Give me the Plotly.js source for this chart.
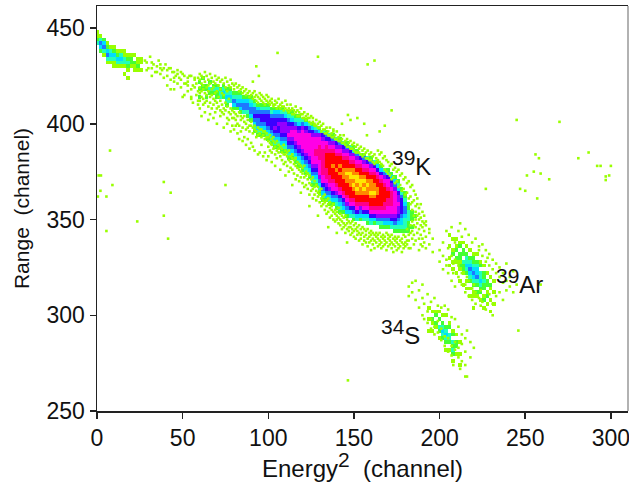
<!DOCTYPE html>
<html><head><meta charset="utf-8">
<script src="https://cdn.plot.ly/plotly-3.0.1.min.js"></script>
<style>html,body{margin:0;padding:0;background:#fff}</style></head>
<body><div id="chart" style="width:629px;height:482px"></div>
<script>
// counts per histogram column: [x channel, top y channel, level per 2-channel step going down]
const mainBand = [
[0,448,"1123"],[2,446,"13542"],[4,444,"24531"],[6,442,"124531"],[8,440,"13431"],[10,440,"124311"],
[12,438,"12431"],[14,438,"13431"],[16,438,"1133101"],[18,436,"1232101"],[20,436,"12210"],[22,436,"102110"],
[24,434,"11210"],[26,434,"1101"],
[60,424,"02020200"],[62,424,"20220"],[64,422,"02202"],[66,422,"20320"],[68,422,"02320"],[70,420,"23220"],
[72,420,"02330"],[74,420,"2342"],[76,418,"23432"],[78,418,"23430"],[80,418,"023542"],[82,416,"234520"],
[84,416,"234542"],[86,416,"024553"],[88,414,"2455320"],[90,414,"2345542"],
[92,414,"0235565432000"],[94,414,"0024565543200"],[96,414,"0023566543200"],[98,412,"02356654320000"],
[100,412,"023566654320000"],[102,412,"0023566654320000"],[104,412,"00245667654320000"],[106,410,"024567665432000"],
[108,410,"0235677765432000"],[110,410,"0034677765432000"],[112,408,"023567787654320000"],[114,408,"0234678876543200"],
[116,408,"00235788876543200"],[118,406,"0234678887654320000"],[120,406,"00357888887654320"],[122,404,"02467888887654320"],
[124,404,"003568888887654320"],[126,402,"02467888888876543200"],[128,402,"00357888998876543200"],[130,400,"024788999988887543200"],
[132,400,"0036788999999988654320"],[134,398,"0256899aaaa9998765420"],[136,398,"0036789aaaaaa998754320"],[138,396,"025789aaabaaa98865420"],
[140,396,"0036789aaabaaa98754320"],[142,394,"025789aababaaa98654320"],[144,394,"0036789aabbbaaa9865420"],[146,392,"025789aabcbbaaa9875420"],
[148,392,"0036789abccbbaaa986430"],[150,390,"024789abbcbcbaa9865320"],[152,388,"025789abccbcbaa986430"],[154,388,"003689aabccbbaa975420"],
[156,386,"025789abcbcbaa986430"],[158,386,"003689aabcbbaa9864320"],[160,384,"025789abbbcbaa986430"],[162,382,"03689aabbcbaa986420"],
[164,384,"0024689aabbaaa987530"],[166,382,"0024689aaaaaa9875320"],[168,380,"0035789aaaa99875420"],[170,378,"0246889aa998875420"],
[172,376,"02467899998876430"],[174,374,"02457888888765320"],[176,372,"0234677877654320"],[178,370,"0023566665443200"],
[180,368,"002234554333200"],[182,366,"0000223332220000"],[184,364,"0000022202000000"],[186,362,"000002000000000"]
];
const argonCluster = [
[206,342,"10010010100"],[208,342,"010012010100"],[210,340,"1012021001"],
[212,340,"012022121001"],[214,338,"102203221001"],[216,336,"10233432010100"],[218,334,"10234543201010"],
[220,332,"122345432011001"],[222,332,"10234453202100"],[224,328,"12033432201"],[226,326,"102232201201"],
[228,322,"10220120100"],[230,320,"1021001001"],[232,318,"1001001"]
];
const sulfurCluster = [
[194,304,"1001001"],[196,302,"1021010"],[198,304,"01202100"],
[200,302,"10203201"],[202,300,"10234320"],[204,300,"1002343201"],[206,296,"120332010"],
[208,292,"120323201"],[210,290,"1022010"],[212,286,"1001001"]
];
// single lime counts read as [x channel, [y channels]]
const strayColumns = [
[245,[402]],[270,[401]],[256,[384]],[258,[382]],[287,[385]],[281,[382]],[292,[378]],[294,[378]],[300,[378]],[299,[373]],[297,[372.5,370.6]],
[255,[375]],[259,[374,316]],[251,[373]],[264,[371]],[227,[366]],[247,[366]],[250,[365]],[257,[361]],[246,[292]],
[7.6,[386]],[2.3,[373]],[1,[373]],[9,[368]],[2,[365]],[5.5,[362,344]],[0.5,[362]],[39,[369.6,352]],[43,[364]],[23.5,[349]],[41.5,[340]],
[75,[368]],[146.5,[266]],[215,[268]],[208,[274]],[105.4,[437]],[93,[430]],[94.5,[425]],[91,[422]],[129,[435]],[162,[433]],[158,[431]],[172,[407]],
[146.5,[404.6]],[143,[400]],[148,[402]],[152,[403]],[156,[400]],[157.6,[394]],[165,[396]],[168,[399]],[138,[397]],
[28,[433]],[29,[432,428]],[30,[429]],[31,[435]],[32,[432,429,425]],[33,[431]],[34,[427]],[35,[430,427]],[36,[433]],[37,[431,426,429]],[38,[428]],
[39,[429,424]],[40,[431]],[41,[428,425,420]],[42,[429]],[43,[429,423,418]],[44,[427]],[45,[427,424,418,422]],[46,[425]],[47,[426,421,428]],[48,[424]],
[49,[427,423,419]],[50,[426,414]],[51,[425,421,415]],[52,[421]],[53,[424,420,417,422]],[54,[425]],[55,[425,418,414,413]],[56,[420,411]],[57,[423,419,424]],[58,[415,421]],[59,[424,417,410,412]],
[60,[426,423,419,416,412,408]],[61,[425,421,417,414,404]],[62,[424,420,418,413,410]],[63,[427,422,416,411,406]],[64,[425,419,415,412]],
[65,[423,420,417,409,402]],[66,[426,421,414,411,405]],[67,[424,418,415,408]],[68,[422,419,413,410,403]],[69,[425,421,416,412,406]],
[70,[423,417,411,408,400]],[71,[424,420,414,409]],[72,[422,418,412,407,404]],[73,[423,416,410,406]],[74,[421,415,408,405,398]],
[75,[424,419,411,407]],[76,[422,417,409,403,400]],[77,[420,413,406,402]],[78,[423,419,408,405,396]],[79,[421,407,403,399]],
[80,[420,418,406,403,397]],[81,[421,405,402,399]],[82,[419,404,400,395]],[83,[420,417,406,399,392]],[84,[418,402,404,396]],
[85,[419,416,403,398,391]],[86,[417,404,401,393]],[87,[418,415,400,397,389]],[88,[416,402,398,392]],[89,[417,414,399,396,387]],
[90,[415,401,399,390]],[91,[416,413,398,395,388]],[92,[417,414,397,399,386]],[93,[415,412,396,393]],[94,[414,411,398,394,384]],
[95,[416,413,395,397,385]],[96,[412,415,397,393,389]],[97,[414,411,394,396,383]],[98,[413,410,396,392,385]],[99,[412,415,393,395,381]],
[100,[414,411,393,391,388,383]],[101,[412,410,394,390,386]],[102,[413,411,392,389,385,380]],[103,[410,409,393,391,387]],[104,[412,410,390,388,384,378]],
[105,[411,408,391,386,382]],[106,[413,409,389,387,385]],[107,[410,408,388,383,376]],[108,[411,409,387,385,381]],[109,[409,407,389,384,379]],
[110,[412,408,386,384,380,373]],[111,[410,407,385,383,378]],[112,[408,406,386,381,375]],[113,[410,407,383,380,377]],[114,[408,405,384,382,376,368]],
[115,[407,405,381,379,374]],[116,[409,406,382,378,371]],[117,[407,404,380,377,373]],[118,[406,404,379,376,370]],[119,[408,405,378,375,372,364]],
[120,[405,403,377,374,369]],[121,[406,403,378,372,367]],[122,[404,402,375,373,368]],[123,[405,403,374,371,366]],[124,[403,401,373,369,363,357]],
[125,[404,400,371,368,365]],[126,[403,401,372,366,361]],[127,[400,399,370,367,363]],[128,[402,399,368,365,360]],[129,[400,398,367,364,362,352]],
[130,[401,398,365,363,359]],[131,[399,396,366,361,357]],[132,[400,397,362,360,358]],[133,[397,395,363,359,355]],[134,[398,395,360,357,353]],
[135,[396,394,361,358,354,346]],[136,[398,394,359,356,351]],[137,[395,393,357,355,352]],[138,[396,393,358,354,350]],[139,[394,392,355,353,349]],
[140,[396,392,354,352,350,343]],[141,[393,391,356,351,348]],[142,[394,391,353,350,347]],[143,[392,390,352,349,345]],[144,[394,390,351,348,346]],
[145,[391,389,352,347,343]],[146,[392,388,350,348,345,338]],[147,[390,388,349,346,344]],[148,[391,387,348,346,342]],[149,[389,387,349,345,343]],
[150,[390,386,347,344,341]],[151,[388,385,348,345,340]],[152,[389,385,346,344,342]],[153,[387,385,347,343,339]],[154,[388,384,345,342,340]],
[155,[386,383,346,343,337]],[156,[387,384,345,341,339]],[157,[385,382,344,342,338]],[158,[386,382,345,340,336]],[159,[384,381,343,341,338]],
[160,[385,381,344,342,339,334]],[161,[383,380,343,340,337]],[162,[384,379,342,339,335]],[163,[382,380,343,341,338]],[164,[386,381,342,340,336]],
[165,[384,380,343,339,337]],[166,[385,379,341,338,335]],[167,[382,378,342,340,336]],[168,[383,376,341,339,337]],[169,[381,375,343,338,334]],
[170,[380,374,342,340,336]],[171,[378,373,341,339,337]],[172,[379,371,342,338,335]],[173,[376,372,340,337,333]],[174,[377,369,341,339,336]],
[175,[375,370,340,338,334]],[176,[376,367,341,337,335]],[177,[373,368,339,336]],[178,[374,365,340,338,333]],[179,[371,366,337,335,342]],
[180,[372,363,338,336,341]],[181,[369,364,345,337,339]],[182,[370,361,342,339,335]],[183,[367,362,358,347,343,335]],[184,[368,359,355,349,344,340]],
[185,[365,360,352,347,342,337]],[186,[363,357,354,350,346,339]],[187,[361,358,352,348,343]],[188,[356,353,350,345,340,334]],[189,[358,351,347,342,337]],
[190,[354,349,346,340,336]],[191,[352,348,344,338]],[192,[349,347,341,335]],[194,[345,343,337]],[196,[340,333]],
[200,[334,328]],[202,[338,331,324]],[204,[344,329,326]],[205,[335,322]],[207,[346,331,318]],[208,[327,322]],[209,[338,329,315]],[211,[344,326,320]],
[212,[348,318]],[213,[341,322,316]],[215,[345,316,312]],[216,[320,314]],[217,[342,318,310]],[219,[338,314,308]],[220,[316,311]],[221,[340,312,306]],
[223,[336,334,309]],[224,[313,305]],[225,[337,331,307]],[227,[334,328,303]],[228,[330,306]],[229,[332,326,311]],[231,[329,324,306,300]],
[233,[327,322,310]],[235,[325,320,312]],[237,[322,317,308]],[239,[327,318,313]],[241,[320,315]],[243,[323,312]],[245,[316]],
[182,[315,310]],[184,[312,317]],[186,[318,308]],[188,[313,304]],[190,[316,309,300]],[191,[306,298]],[193,[311,302,296]],[195,[307,298,293]],
[197,[309,294,290]],[199,[305,291,297]],[201,[304,287,293]],[203,[305,284,289]],[205,[303,288,281]],[207,[299,284,279]],[209,[298,282,286]],
[211,[294,278,283]],[213,[290,285,276]],[215,[288,281,274]],[216,[292,268]],[218,[286,278]],[220,[283]],[212,[272]]
];
const levels = ["#ffffff","#99ff00","#44ff33","#22ffbb","#00ddff","#1e78ff","#3a00ff","#9400ff","#ff00e6","#ff0088","#ff0000","#ff8800","#ffe800"];
const xTicks = [0,50,100,150,200,250,300];
const yTicks = [250,300,350,400,450];

const strayX = [], strayY = [];
strayColumns.forEach(c => c[1].forEach(y => { strayX.push(c[0]); strayY.push(y); }));
const xs = []; for (let i = 0; i <= 155; i++) xs.push(i * 2);
const ys = []; for (let j = 125; j <= 230; j++) ys.push(j * 2);
const z = ys.map(() => xs.map(() => null));
[mainBand, argonCluster, sulfurCluster].forEach(group => group.forEach(col => {
  const c = col[0] / 2;
  [...col[2]].forEach((ch, k) => {
    const r = col[1] / 2 - 125 - k;
    const v = parseInt(ch, 16);
    if (v > 0 && r >= 0 && r < ys.length) z[r][c] = v;
  });
}));
const n = levels.length;
const colorscale = [];
levels.forEach((c, i) => { colorscale.push([i / n, c]); colorscale.push([(i + 1) / n, c]); });

const traces = [
 {type:"scatter",mode:"markers",x:strayX,y:strayY,hoverinfo:"skip",
  marker:{symbol:"square",size:2.6,color:levels[1],line:{width:0}}},
 {type:"heatmap",x:xs,y:ys,z:z,zmin:-0.5,zmax:n-0.5,colorscale:colorscale,showscale:false,hoverongaps:false}
];
const family = "Liberation Sans, Arial, sans-serif";
const tickFont = {family:family,size:23,color:"#111"};
const labelFont = {family:family,size:24,color:"#111"};
const sup = t => "<sup><span style=\"font-size:21px\">" + t + "</span></sup>";
const layout = {
  width:629,height:482,paper_bgcolor:"#fff",plot_bgcolor:"#fff",showlegend:false,
  margin:{l:97,r:1,t:6,b:71},
  font:tickFont,
  xaxis:{range:[0,310],tickvals:xTicks,ticks:"outside",ticklen:6,tickwidth:1.5,tickcolor:"#222",showgrid:false,zeroline:false,
    showline:true,mirror:true,linecolor:"#222",linewidth:1.5,tickfont:tickFont,ticklabeloverflow:"allow",
    title:{text:"Energy"+sup("2")+"\u00a0\u00a0(channel)\u00a0",font:labelFont,standoff:5}},
  yaxis:{range:[250,461.5],tickvals:yTicks,ticks:"outside",ticklen:6,tickwidth:1.5,tickcolor:"#222",showgrid:false,zeroline:false,
    showline:true,linecolor:"#222",linewidth:1.5,tickfont:tickFont,
    title:{text:"Range\u00a0\u00a0(channel)\u00a0\u00a0\u00a0\u00a0",font:{family:family,size:21,color:"#111"},standoff:11}},
  shapes:[{type:"line",xref:"paper",yref:"paper",x0:1,x1:1,y0:0,y1:1,line:{color:"#999",width:1.5}}],
  annotations:[
    {x:171,y:379.5,text:sup("39")+"K",showarrow:false,xanchor:"left",font:labelFont},
    {x:232,y:318,text:sup("39")+"Ar",showarrow:false,xanchor:"left",font:labelFont},
    {x:164.5,y:291,text:sup("34")+"S",showarrow:false,xanchor:"left",font:labelFont}
  ]
};
Plotly.newPlot("chart",traces,layout,{displayModeBar:false,staticPlot:true});
</script></body></html>
